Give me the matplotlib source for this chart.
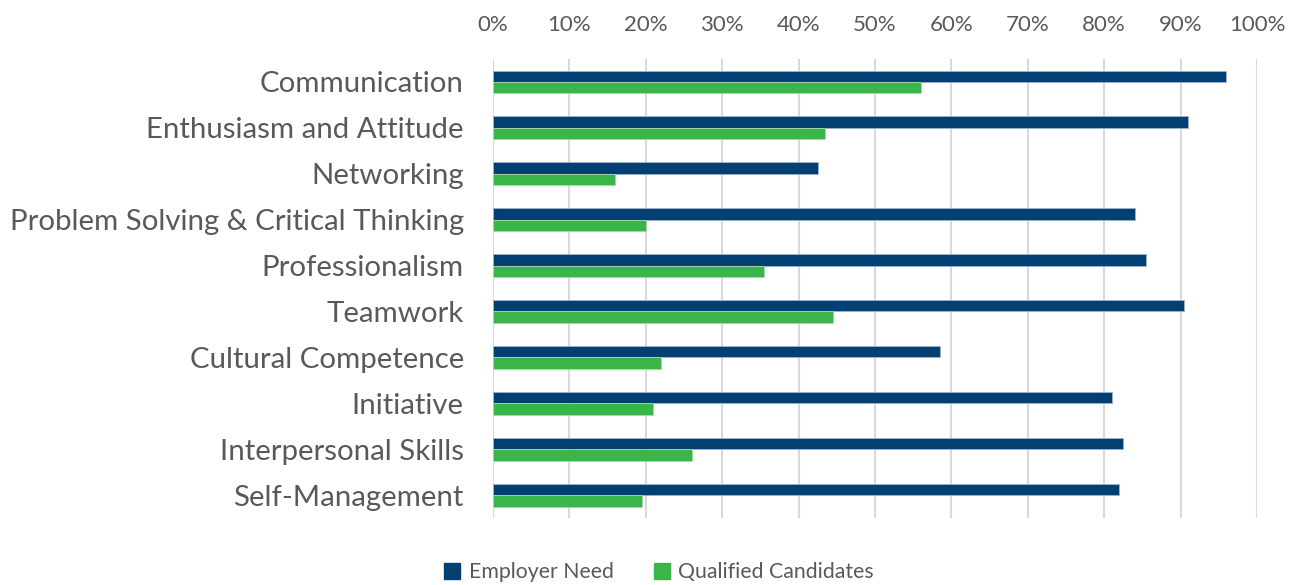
import matplotlib.pyplot as plt
from matplotlib.patches import Patch
from matplotlib.ticker import PercentFormatter

skills = ["Communication", "Enthusiasm and Attitude", "Networking",
          "Problem Solving & Critical Thinking", "Professionalism", "Teamwork",
          "Cultural Competence", "Initiative", "Interpersonal Skills", "Self-Management"]
employer_need = [96.0, 91.0, 42.5, 84.0, 85.5, 90.5, 58.5, 81.0, 82.5, 82.0]
qualified = [56.0, 43.5, 16.0, 20.0, 35.5, 44.5, 22.0, 21.0, 26.0, 19.5]
x_ticks = [0, 10, 20, 30, 40, 50, 60, 70, 80, 90, 100]

NAVY = "#023F72"
GREEN = "#39B54A"
TEXT = "#595959"

plt.rcParams["font.family"] = ["Lato", "DejaVu Sans"]

fig = plt.figure(figsize=(13, 5.85), dpi=100)
ax = fig.add_axes([0.3792, 0.1145, 0.5877, 0.7846])

pos = list(range(len(skills)))
bar_h = 0.25
ax.barh([p - bar_h / 2 for p in pos], employer_need, height=bar_h, color=NAVY,
        edgecolor="#9DB3C9", linewidth=0.6, zorder=3)
ax.barh([p + bar_h / 2 for p in pos], qualified, height=bar_h, color=GREEN,
        edgecolor="#A6DBAD", linewidth=0.6, zorder=3)

ax.set_xlim(0, 100)
ax.set_ylim(len(skills) - 0.5, -0.5)
ax.set_xticks(x_ticks)
ax.xaxis.set_major_formatter(PercentFormatter(decimals=0))
ax.xaxis.tick_top()
ax.set_yticks(pos)
ax.set_yticklabels(skills)
ax.tick_params(axis="x", length=0, labelsize=16, colors=TEXT, pad=17)
ax.tick_params(axis="y", length=0, labelsize=21.2, colors=TEXT, pad=21)
ax.grid(axis="x", color="#D9D9D9", linewidth=1.5, zorder=0)
for s in ax.spines.values():
    s.set_visible(False)

handles = [Patch(color=NAVY, label="Employer Need"),
           Patch(color=GREEN, label="Qualified Candidates")]
fig.legend(handles=handles, loc="lower center", bbox_to_anchor=(0.507, -0.028),
           ncol=2, frameon=False, fontsize=15.3, labelcolor=TEXT,
           handlelength=0.75, handleheight=0.75, handletextpad=0.4, columnspacing=1.9)

fig.savefig("out.png", dpi=100)
